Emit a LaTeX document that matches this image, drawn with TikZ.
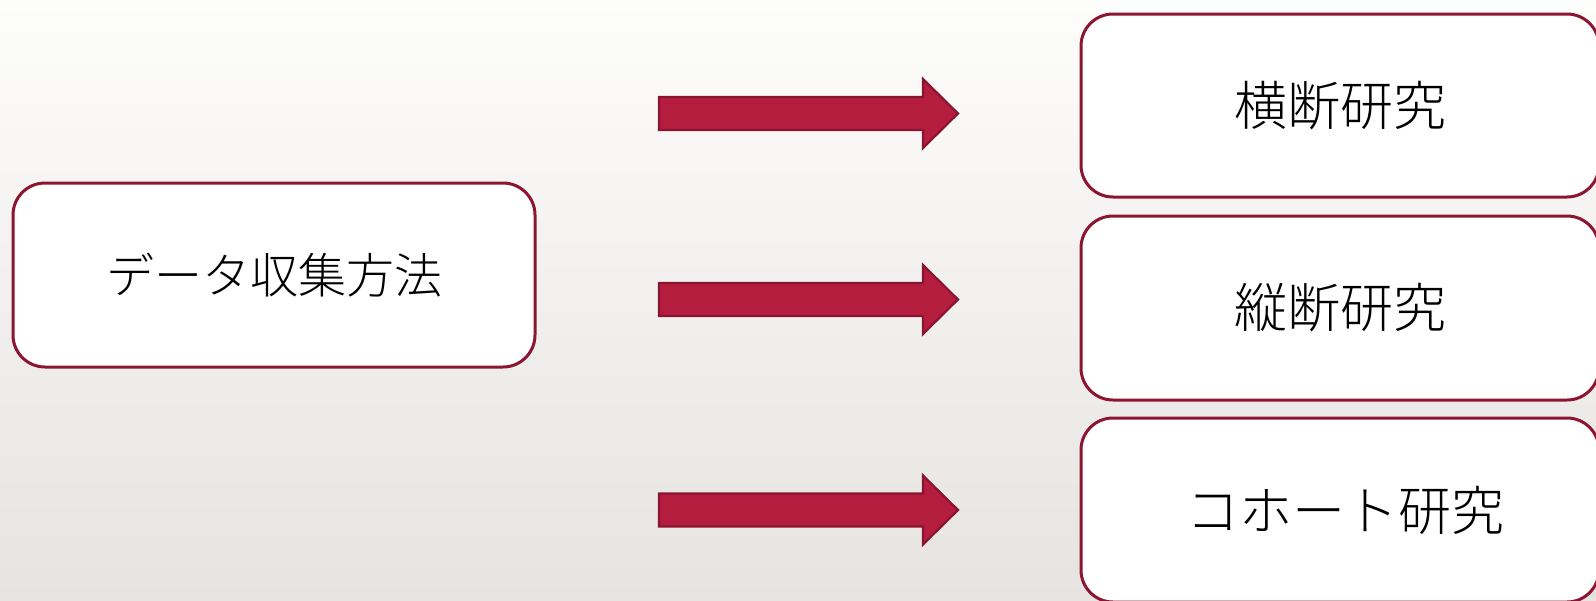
\documentclass[tikz,border=0pt]{standalone}
\usepackage{fontspec}
\newfontfamily\cjk{Noto Sans CJK JP}[UprightFont={* Light}]
\definecolor{bordercol}{HTML}{8C1631}
\definecolor{arrowfill}{HTML}{B51D3F}
\definecolor{arrowline}{HTML}{8A1530}
\definecolor{bgtop}{HTML}{FDFDFC}
\definecolor{bgbot}{HTML}{E6E3E0}
\tikzset{
  box/.style={draw=bordercol, line width=3pt, fill=white, rounded corners=32pt},
  boxtext/.style={font=\cjk\fontsize{#1}{#1}\selectfont, text=black, inner sep=0pt},
  bigarrow/.style={fill=arrowfill, draw=arrowline, line width=2.2pt, line join=miter}
}
\begin{document}
\begin{tikzpicture}[x=1pt,y=-1pt]
\useasboundingbox (0,0) rectangle (1596,600);
\shade[top color=bgtop, bottom color=bgbot] (0,0) rectangle (1596,600);
\clip (0,0) rectangle (1596,600);
% boxes
\draw[box] (13,183) rectangle (535,367);
\node[boxtext=48] (src) at (274,275) {データ収集方法};
\draw[box] (1081,14) rectangle (1599,197);
\node[boxtext=53] (cross) at (1340,106) {横断研究};
\draw[box] (1081,216) rectangle (1599,400);
\node[boxtext=53] (long) at (1340,308) {縦断研究};
\draw[box] (1081,418) rectangle (1599,602);
\node[boxtext=53] (cohort) at (1345,510) {コホート研究};
% arrows
\foreach \c/\n in {113.5/a1, 299.5/a2, 510/a3}{
  \coordinate (\n s) at (659,\c);
  \coordinate (\n t) at (958,\c);
  \draw[bigarrow] (659,\c-16.5) -- (923,\c-16.5) -- (923,\c-34.5) -- (\n t) -- (923,\c+34.5) -- (923,\c+16.5) -- (659,\c+16.5) -- cycle;
}
\end{tikzpicture}
\end{document}
